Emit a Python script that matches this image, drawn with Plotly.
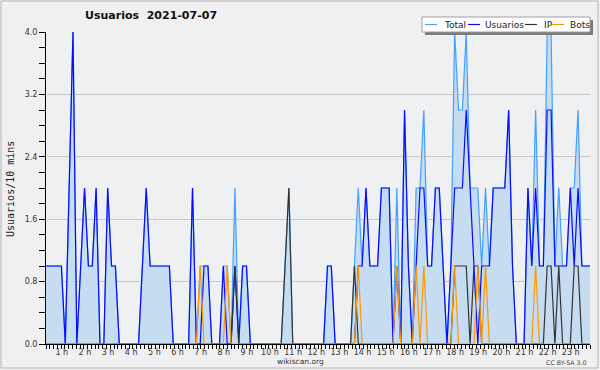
import plotly.graph_objects as go

# ---- data (10-minute slots, index 0 = 00:00) ----
usuarios = [1,1,1,1,1,0,2,4,0,1,
            2,1,1,2,0,0,2,1,1,0,
            0,0,0,0,0,1,2,1,1,1,
            1,1,1,0,0,0,0,0,2,0,
            0,1,1,0,0,0,1,0,0,1,
            0,1,1,0,0,0,0,0,0,0,
            0,0,0,0,0,0,0,0,0,0,
            0,0,0,1,1,0,0,0,0,0,
            0,1,1,2,1,1,1,2,2,2,
            0,1,0,3,1,0,1,2,2,1,
            1,2,2,1,0,1,2,2,2,3,
            2,1,0,1,1,1,2,2,2,2,
            3,1,0,0,0,2,1,2,1,1,
            3,3,1,1,1,1,2,1,2,1,
            1,1,1,1]
ip = [0,0,0,0,0,0,0,0,0,0,
      0,0,0,0,0,0,0,0,0,0,
      0,0,0,0,0,0,0,0,0,0,
      0,0,0,0,0,0,0,0,0,0,
      0,0,0,0,0,0,0,0,0,1,
      0,0,0,0,0,0,0,0,0,0,
      0,0,1,2,0,0,0,0,0,0,
      0,0,0,0,0,0,0,0,0,0,
      1,0,0,0,0,0,0,0,0,0,
      0,0,0,0,0,0,0,0,0,0,
      0,0,0,0,0,0,1,1,1,1,
      0,1,1,0,0,0,0,0,0,0,
      0,0,0,0,0,0,0,0,0,0,
      1,1,0,1,0,0,0,1,1,0,
      0,0,0,0]
bots = [0,0,0,0,0,0,0,0,0,0,
        0,0,0,0,0,0,0,0,0,0,
        0,0,0,0,0,0,0,0,0,0,
        0,0,0,0,0,0,0,0,0,0,
        1,0,0,0,0,0,0,1,0,0,
        0,0,0,0,0,0,0,0,0,0,
        0,0,0,0,0,0,0,0,0,0,
        0,0,0,0,0,0,0,0,0,0,
        0,1,0,0,0,0,0,0,0,0,
        0,1,0,0,0,0,1,0,1,0,
        0,0,0,0,0,0,1,0,0,0,
        0,0,1,0,1,0,0,0,0,0,
        0,0,0,0,0,0,0,1,0,0,
        0,0,0,0,0,0,0,0,0,0,
        0,0,0,0]
total = [1,1,1,1,1,0,2,4,0,1,
         2,1,1,2,0,0,2,1,1,0,
         0,0,0,0,0,1,2,1,1,1,
         1,1,1,0,0,0,0,0,2,0,
         1,1,1,0,0,0,1,1,0,2,
         0,1,1,0,0,0,0,0,0,0,
         0,0,1,2,0,0,0,0,0,0,
         0,0,0,1,1,0,0,0,0,0,
         1,2,1,2,1,1,1,2,2,2,
         0,2,0,3,1,0,2,2,3,1,
         1,2,2,1,0,1,4,3,3,4,
         2,2,2,1,2,1,2,2,2,2,
         3,1,0,0,0,2,1,3,1,1,
         4,4,1,2,1,1,2,2,3,1,
         1,1,1,1]
slots = list(range(len(total)))
hours = list(range(1, 24))
hour_labels = [f"{h} h" for h in hours]
y_ticks = [0.0, 0.8, 1.6, 2.4, 3.2, 4.0]

C_TOTAL = "#44a0ff"
C_USER = "#0a0aff"
C_IP = "#333333"
C_BOTS = "#ff9900"
FONT = "DejaVu Sans"

# plot area in pixels
L, R, T, B = 46, 590, 32, 344
W, H = 600, 370
def px(x):
    return (x - L) / (R - L)
def py(y):
    return (B - y) / (B - T)

XMAX = 141.1  # slots visible across the plot width

fig = go.Figure()
fig.add_trace(go.Scatter(x=slots, y=total, mode="lines", name="Total",
                         line=dict(color=C_TOTAL, width=1.2),
                         fill="tozeroy", fillcolor="#c6dcf0"))
fig.add_trace(go.Scatter(x=slots, y=usuarios, mode="lines", name="Usuarios",
                         line=dict(color=C_USER, width=1.2)))
fig.add_trace(go.Scatter(x=slots, y=ip, mode="lines", name="IP",
                         line=dict(color=C_IP, width=1.2)))
fig.add_trace(go.Scatter(x=slots, y=bots, mode="lines", name="Bots",
                         line=dict(color=C_BOTS, width=1.2)))

shapes = []
annotations = []
# outer border
shapes.append(dict(type="rect", xref="paper", yref="paper",
                   x0=px(1), x1=px(598), y0=py(1), y1=py(368),
                   line=dict(color="#b4b4b4", width=1), fillcolor="rgba(0,0,0,0)",
                   layer="below"))
# legend (shadow + box)
shapes.append(dict(type="rect", xref="paper", yref="paper",
                   x0=px(425), x1=px(593), y0=py(20), y1=py(35),
                   line=dict(width=0), fillcolor="#7a7a7a", layer="above"))
shapes.append(dict(type="rect", xref="paper", yref="paper",
                   x0=px(422), x1=px(590), y0=py(17), y1=py(32),
                   line=dict(color="#a0a0a0", width=1), fillcolor="#ffffff", layer="above"))
legend_items = [("Total", C_TOTAL, 425, 442),
                ("Usuarios", C_USER, 468, 483),
                ("IP", C_IP, 525, 541.5),
                ("Bots", C_BOTS, 552, 568)]
for name, col, lx, tx in legend_items:
    shapes.append(dict(type="line", xref="paper", yref="paper",
                       x0=px(lx), x1=px(lx + 12), y0=py(24.5), y1=py(24.5),
                       line=dict(color=col, width=1.2), layer="above"))
    annotations.append(dict(text=name, xref="paper", yref="paper",
                            x=px(tx), y=py(24.5), xanchor="left", yanchor="middle",
                            showarrow=False, font=dict(family=FONT, size=9, color="#222")))

# title
annotations.append(dict(text="<b>Usuarios\u00a0 2021-07-07</b>", xref="paper", yref="paper",
                        x=px(151), y=py(16), xanchor="center", yanchor="middle",
                        showarrow=False, font=dict(family=FONT, size=11, color="#111")))
# y title
annotations.append(dict(text="Usuarios/10 mins", xref="paper", yref="paper",
                        x=px(10), y=py(189), xanchor="center", yanchor="middle",
                        textangle=-90, showarrow=False,
                        font=dict(family="DejaVu Sans Mono", size=10, color="#222")))
# footer
annotations.append(dict(text="wikiscan.org", xref="paper", yref="paper",
                        x=px(300), y=py(361.5), xanchor="center", yanchor="middle",
                        showarrow=False, font=dict(family=FONT, size=7.5, color="#333")))
annotations.append(dict(text="CC BY-SA 3.0", xref="paper", yref="paper",
                        x=px(589), y=py(362), xanchor="right", yanchor="middle",
                        showarrow=False, font=dict(family=FONT, size=6.3, color="#444")))

fig.update_layout(
    width=W, height=H, autosize=False,
    margin=dict(l=L, r=W - R, t=T, b=H - B, pad=0),
    paper_bgcolor="#f0f0f0", plot_bgcolor="#eef0f2",
    showlegend=False,
    shapes=shapes, annotations=annotations,
    xaxis=dict(range=[0, XMAX], tickmode="array",
               tickvals=[6 * h - 1.9 for h in hours], ticktext=hour_labels,
               ticks="", showgrid=False, zeroline=False,
               showline=True, linecolor="black", linewidth=1,
               tickfont=dict(family=FONT, size=8, color="#333"),
               minor=dict(ticks="outside", ticklen=4, tickcolor="black",
                          tick0=0, dtick=XMAX / 144, showgrid=False)),
    yaxis=dict(range=[0, 4], tickmode="array", tickvals=y_ticks,
               ticktext=[f"{v:.1f}" for v in y_ticks],
               ticks="outside", ticklen=6, tickcolor="black",
               showgrid=True, gridcolor="#c8c8c8", gridwidth=1, zeroline=False,
               showline=True, linecolor="black", linewidth=1,
               tickfont=dict(family=FONT, size=8, color="#333"),
               minor=dict(ticks="outside", ticklen=6, tickcolor="black",
                          tick0=0, dtick=0.2, showgrid=False)),
)

fig.write_html("out.html", config={"displayModeBar": False},
               post_script="document.body.style.margin='0';document.body.style.overflow='hidden';")
